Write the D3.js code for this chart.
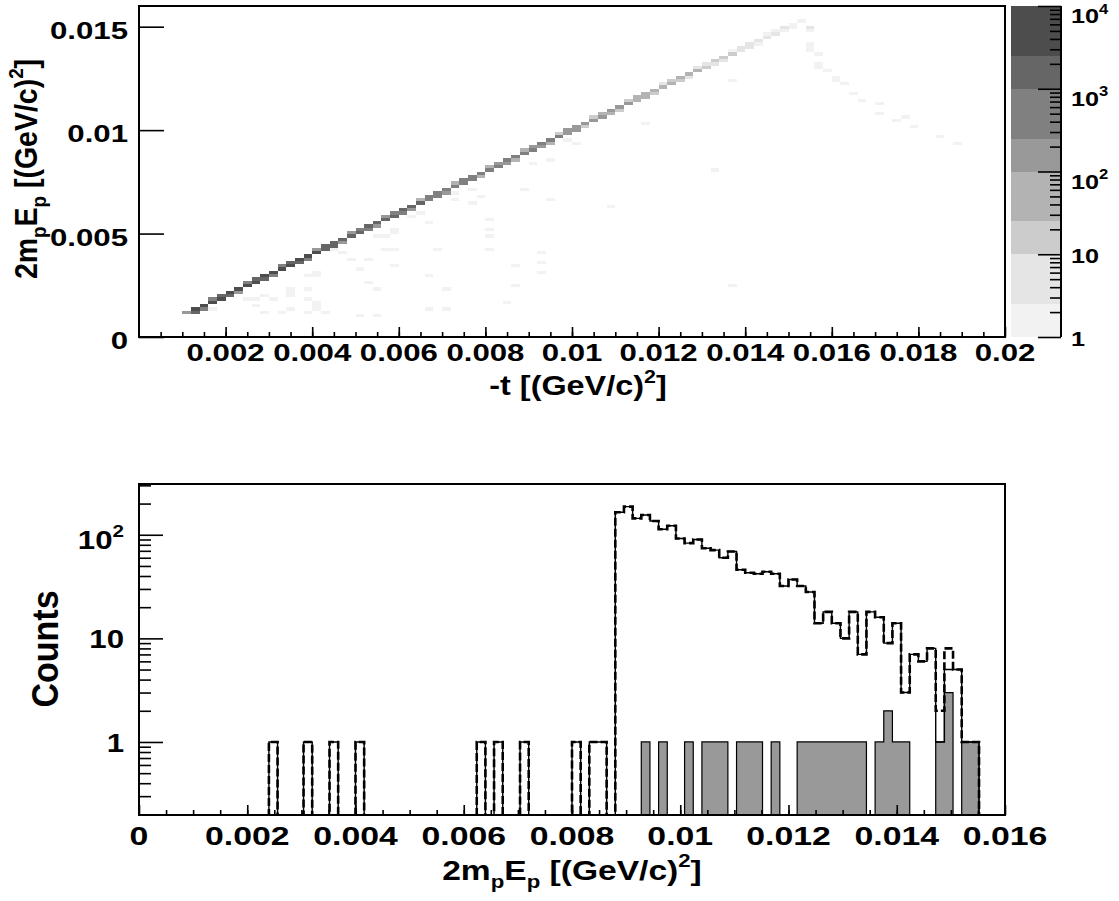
<!DOCTYPE html>
<html>
<head>
<meta charset="utf-8">
<script src="https://cdn.jsdelivr.net/npm/d3@7"></script>
<style>
  body { margin: 0; background: #fff; }
</style>
</head>
<body>
<svg id="chart" width="1119" height="901"></svg>
<script>
// ---------------- Top panel: 2m_p E_p versus -t (100 x 100 bins) ----------------
const tBinWidth = 0.0002;     // -t bin width
const epBinWidth = 0.00016;   // 2m_p E_p bin width (both panels)

// Populated cells along the elastic band: [t bin, 2mpEp bin, entries]
const bandCells = [
  [5,7,150],
  [6,7,1500],[6,8,4000],[7,8,800],[7,9,4000],[8,10,4000],[8,11,300],
  [9,11,3000],[9,12,1500],[10,12,1500],[10,13,3000],[11,13,200],[11,14,4000],
  [12,15,3500],[12,16,400],[13,16,3000],[13,17,1200],[14,17,1500],[14,18,3000],
  [15,18,300],[15,19,3500],[16,20,3000],[16,21,300],[17,21,2500],[17,22,1500],
  [18,22,1200],[18,23,3000],[19,23,250],[19,24,2500],[20,25,2500],[20,26,200],
  [21,26,2000],[21,27,1200],[22,27,1000],[22,28,2000],[23,28,200],[23,29,2000],
  [24,30,2000],[24,31,150],[25,31,1500],[25,32,800],[26,32,800],[26,33,1500],
  [27,33,150],[27,34,1500],[28,35,1200],[28,36,100],[29,36,1200],[29,37,600],
  [30,37,600],[30,38,1200],[31,38,120],[31,39,1000],[32,40,1000],[32,41,80],
  [33,41,900],[33,42,500],[34,42,400],[34,43,900],[35,43,100],[35,44,800],
  [36,45,800],[36,46,60],[37,46,700],[37,47,300],[38,47,300],[38,48,700],
  [39,48,60],[39,49,600],[40,50,600],[40,51,40],[41,51,500],[41,52,200],
  [42,52,200],[42,53,400],[43,53,50],[43,54,400],[44,55,350],[44,56,30],
  [45,56,300],[45,57,150],[46,57,150],[46,58,300],[47,58,30],[47,59,260],
  [48,60,260],[48,61,20],[49,61,200],[49,62,100],[50,62,100],[50,63,200],
  [51,63,20],[51,64,180],[52,65,160],[52,66,15],[53,66,140],[53,67,70],
  [54,67,70],[54,68,130],[55,68,15],[55,69,120],[56,70,110],[56,71,10],
  [57,71,90],[57,72,40],[58,72,40],[58,73,80],[59,73,10],[59,74,70],
  [60,75,60],[60,76,6],[61,76,50],[61,77,20],[62,77,20],[62,78,40],
  [63,78,5],[63,79,30],[64,80,25],[64,81,4],[65,81,20],[65,82,8],
  [66,82,8],[66,83,15],[67,83,3],[67,84,12],[68,85,10],[68,86,2],
  [69,86,8],[69,87,3],[70,87,3],[70,88,6],[71,88,1],[71,89,5],
  [72,90,4],[72,91,1],[73,91,3],[73,92,2],[74,92,2],[74,93,3],
  [75,93,1],[75,94,2],[76,95,1]
];

// Isolated low-count cells off the band: [t bin, 2mpEp bin, entries]
const sparseCells = [
  [8,8,1],[12,11,1],[13,11,1],[13,9,1],[14,12,1],[14,7,1],[15,11,1],[16,7,1],
  [17,12,1],[17,13,1],[17,14,1],[17,8,1],[19,14,1],[19,11,1],[19,7,1],[19,18,1],
  [20,18,1],[20,19,1],[20,8,1],[20,9,1],[20,10,1],[21,7,1],[22,26,1],[23,25,1],
  [24,23,1],[25,20,1],[25,6,1],[26,23,1],[26,16,1],[27,30,1],[27,14,1],[27,6,1],
  [28,30,1],[28,26,1],[29,26,1],[29,31,1],[29,32,1],[29,21,1],[31,36,1],[32,37,1],
  [33,34,1],[33,18,1],[33,8,1],[34,26,1],[35,14,1],[35,8,1],[36,43,1],[36,41,1],
  [38,44,1],[38,40,1],[39,42,1],[40,35,1],[40,32,1],[40,30,1],[40,26,1],[42,10,1],
  [43,21,1],[43,15,1],[44,44,1],[45,52,1],[46,25,1],[46,22,1],[46,19,1],[47,53,1],
  [47,41,1],[49,59,1],[50,58,1],[54,39,1],[58,64,1],[66,50,1],[68,77,1],[68,15,1],
  [77,93,3],[77,92,1],[77,86,1],[77,87,1],[77,88,1],[78,85,1],[78,81,1],[78,82,1],
  [79,80,1],[80,77,1],[80,78,1],[81,76,1],[82,73,1],[83,71,1],[85,70,1],[85,67,1],
  [87,65,1],[88,66,1],[89,63,1],[92,60,1],[94,58,1]
];

// Colour contour levels of the z axis and their greys
const zLevels = [1, 2.5, 10, 25, 100, 250, 1000, 2500, 10000];
const zColors = ['#f2f2f2','#e5e5e5','#cccccc','#b3b3b3','#999999','#808080','#666666','#4d4d4d'];

const topXTicks = [0.002,0.004,0.006,0.008,0.01,0.012,0.014,0.016,0.018,0.02];
const topXTickLabels = ['0.002','0.004','0.006','0.008','0.01','0.012','0.014','0.016','0.018','0.02'];
const topYTicks = [0, 0.005, 0.01, 0.015];
const topYTickLabels = ['0','0.005','0.01','0.015'];
const zTicks = [1, 10, 100, 1000, 10000];

// ---------------- Bottom panel: 2m_p E_p projections (100 bins, 0 - 0.016) ----------------
const countsAll = [
  0,0,0,0,0,0,0,0,0,0,
  0,0,0,0,0,1,0,0,0,1,
  0,0,1,0,0,1,0,0,0,0,
  0,0,0,0,0,0,0,0,0,1,
  0,1,0,0,1,0,0,0,0,0,
  1,0,1,1,0,165,187,144,155,136,
  113,122,92,83,90,74,71,60,69,46,
  43,42,44,42,32,37,32,28,14,18,
  14,10,18,7,18,16,9,14,3,7,
  6,8,1,5,5,1,1,0,0,0
];
const countsDashed = [
  0,0,0,0,0,0,0,0,0,0,
  0,0,0,0,0,1,0,0,0,1,
  0,0,1,0,0,1,0,0,0,0,
  0,0,0,0,0,0,0,0,0,1,
  0,1,0,0,1,0,0,0,0,0,
  1,0,1,1,0,165,187,144,155,136,
  113,122,92,83,90,74,71,60,69,46,
  43,42,44,42,32,37,32,28,14,18,
  14,10,18,7,18,16,9,14,3,7,
  6,8,2,8,5,1,1,0,0,0
];
const countsSelected = [
  0,0,0,0,0,0,0,0,0,0,
  0,0,0,0,0,0,0,0,0,0,
  0,0,0,0,0,0,0,0,0,0,
  0,0,0,0,0,0,0,0,0,0,
  0,0,0,0,0,0,0,0,0,0,
  0,0,0,0,0,0,0,0,1,0,
  1,0,0,1,0,1,1,1,0,1,
  1,1,0,1,0,0,1,1,1,1,
  1,1,1,1,0,1,2,1,1,0,
  0,0,1,3,0,1,1,0,0,0
];
const botXTicks = [0,0.002,0.004,0.006,0.008,0.01,0.012,0.014,0.016];
const botXTickLabels = ['0','0.002','0.004','0.006','0.008','0.01','0.012','0.014','0.016'];
const botYTicks = [1, 10, 100];

// ---------------- Drawing ----------------
const FONT = '"Liberation Sans", Arial, Helvetica, sans-serif';
const svg = d3.select('#chart');

const TP = {l: 139, r: 1005, t: 6, b: 337};
const BP = {l: 139, r: 1005, t: 484, b: 815};
const CB = {l: 1011, r: 1061};

// text with sub/superscripts; parts are strings or [string, 'sub'|'sup']
function richText(x, y, parts, {size = 22, sx = 1.2, anchor = 'middle', rotate = false} = {}) {
  const g = svg.append('g')
    .attr('transform', `translate(${x},${y}) scale(${sx},1)` + (rotate ? ' rotate(-90)' : ''));
  const t = g.append('text')
    .attr('font-family', FONT).attr('font-weight', 'bold')
    .attr('font-size', size).attr('text-anchor', anchor).attr('fill', '#000');
  let shift = 0;
  parts.forEach(p => {
    const [s, k] = typeof p === 'string' ? [p, ''] : p;
    const target = k === 'sub' ? size * 0.3 : k === 'sup' ? -size * 0.45 : 0;
    const ts = t.append('tspan').text(s).attr('dy', target - shift);
    if (k) ts.attr('font-size', size * 0.66);
    shift = target;
  });
  return g;
}

// ---- top panel
const xTop = d3.scaleLinear().domain([0, 0.02]).range([TP.l, TP.r]);
const yTop = d3.scaleLinear().domain([0, 0.016]).range([TP.b, TP.t]);
const zColor = d3.scaleThreshold().domain(zLevels.slice(1, -1)).range(zColors);

svg.append('g').attr('shape-rendering', 'crispEdges')
  .selectAll('rect').data(bandCells.concat(sparseCells)).join('rect')
  .attr('x', d => xTop(d[0] * tBinWidth))
  .attr('width', d => xTop((d[0] + 1) * tBinWidth) - xTop(d[0] * tBinWidth))
  .attr('y', d => yTop((d[1] + 1) * epBinWidth))
  .attr('height', d => yTop(d[1] * epBinWidth) - yTop((d[1] + 1) * epBinWidth))
  .attr('fill', d => zColor(d[2]));

function styleAxis(g, w) {
  g.select('.domain').remove();
  g.selectAll('line').attr('stroke', '#000').attr('stroke-width', w);
  g.selectAll('text').remove();
}

// x axis ticks (major and minor)
const topXMinor = d3.range(1, 40).map(i => i * 0.0005);
svg.append('g').attr('transform', `translate(0,${TP.b})`)
  .call(d3.axisBottom(xTop).tickValues(topXMinor).tickSizeInner(-5).tickSizeOuter(0))
  .call(g => styleAxis(g, 1.6));
svg.append('g').attr('transform', `translate(0,${TP.b})`)
  .call(d3.axisBottom(xTop).tickValues(topXTicks).tickSizeInner(-10).tickSizeOuter(0))
  .call(g => styleAxis(g, 1.6));
svg.append('g').attr('transform', `translate(${TP.l},0)`)
  .call(d3.axisLeft(yTop).tickValues(topYTicks).tickSizeInner(-25).tickSizeOuter(0))
  .call(g => styleAxis(g, 1.6));

svg.append('rect').attr('x', TP.l).attr('y', TP.t)
  .attr('width', TP.r - TP.l).attr('height', TP.b - TP.t)
  .attr('fill', 'none').attr('stroke', '#000').attr('stroke-width', 2);

topXTicks.forEach((v, i) => richText(xTop(v), 361, [topXTickLabels[i]], {size: 24, sx: 1.3}));
topYTicks.forEach((v, i) => richText(128, yTop(v) + 12, [topYTickLabels[i]], {size: 24, sx: 1.3, anchor: 'end'}));

richText(578, 395, ['-t [(GeV/c)', ['2', 'sup'], ']'], {size: 27, sx: 1.2});
richText(37, 169, ['2m', ['p', 'sub'], 'E', ['p', 'sub'], ' [(GeV/c)', ['2', 'sup'], ']'], {size: 28.5, sx: 1.1, rotate: true});

// ---- colour scale
const zScale = d3.scaleLog().domain([1, 1e4]).range([TP.b, TP.t]);
svg.append('g').attr('shape-rendering', 'crispEdges')
  .selectAll('rect').data(zColors).join('rect')
  .attr('x', CB.l).attr('width', CB.r - CB.l)
  .attr('y', (c, i) => zScale(zLevels[i + 1]))
  .attr('height', (c, i) => zScale(zLevels[i]) - zScale(zLevels[i + 1]))
  .attr('fill', c => c);

const zMinor = [];
[1, 10, 100, 1000].forEach(d => { for (let k = 2; k <= 9; k++) zMinor.push(d * k); });
svg.append('g').attr('transform', `translate(${CB.r},0)`)
  .call(d3.axisRight(zScale).tickValues(zMinor).tickSizeInner(-11).tickSizeOuter(0))
  .call(g => styleAxis(g, 1.6));
svg.append('g').attr('transform', `translate(${CB.r},0)`)
  .call(d3.axisRight(zScale).tickValues(zTicks).tickSizeInner(-23).tickSizeOuter(0))
  .call(g => styleAxis(g, 1.6));
svg.append('line').attr('x1', CB.r).attr('x2', CB.r).attr('y1', TP.t).attr('y2', TP.b)
  .attr('stroke', '#000').attr('stroke-width', 2);

const zLabelParts = [['1'], ['10'], ['10', ['2', 'sup']], ['10', ['3', 'sup']], ['10', ['4', 'sup']]];
zTicks.forEach((v, i) => richText(1071, zScale(v) + (v > 10 ? 17 : 9), zLabelParts[i],
  {size: 21, sx: 1.2, anchor: 'start'}));

// ---- bottom panel
const xBot = d3.scaleLinear().domain([0, 0.016]).range([BP.l, BP.r]);
const yBot = d3.scaleLog().domain([0.1973, 309]).range([BP.b, BP.t]);

svg.append('defs').append('clipPath').attr('id', 'botClip')
  .append('rect').attr('x', BP.l).attr('y', BP.t)
  .attr('width', BP.r - BP.l).attr('height', BP.b - BP.t);

const yVal = v => v > 0 ? yBot(v) : BP.b + 4;
function stepPath(vals, closed) {
  let d = `M${xBot(0)},${closed ? BP.b + 4 : yVal(vals[0])}`;
  vals.forEach((v, i) => { d += `V${yVal(v)}H${xBot((i + 1) * epBinWidth)}`; });
  if (closed) d += `V${BP.b + 4}Z`;
  return d;
}

const hist = svg.append('g').attr('clip-path', 'url(#botClip)');
hist.append('path').attr('d', stepPath(countsSelected, true))
  .attr('fill', '#999999').attr('stroke', '#000').attr('stroke-width', 1.2);
hist.append('path').attr('d', stepPath(countsAll, false))
  .attr('fill', 'none').attr('stroke', '#000').attr('stroke-width', 1.4);
hist.append('path').attr('d', stepPath(countsDashed, false))
  .attr('fill', 'none').attr('stroke', '#000').attr('stroke-width', 2.6)
  .attr('stroke-dasharray', '8,3');

const botXMinor = d3.range(1, 32).map(i => i * 0.0005);
svg.append('g').attr('transform', `translate(0,${BP.b})`)
  .call(d3.axisBottom(xBot).tickValues(botXMinor).tickSizeInner(-5).tickSizeOuter(0))
  .call(g => styleAxis(g, 1.6));
svg.append('g').attr('transform', `translate(0,${BP.b})`)
  .call(d3.axisBottom(xBot).tickValues(botXTicks).tickSizeInner(-10).tickSizeOuter(0))
  .call(g => styleAxis(g, 1.6));

const botYMinor = [0.2,0.3,0.4,0.5,0.6,0.7,0.8,0.9,2,3,4,5,6,7,8,9,20,30,40,50,60,70,80,90,200,300];
svg.append('g').attr('transform', `translate(${BP.l},0)`)
  .call(d3.axisLeft(yBot).tickValues(botYMinor).tickSizeInner(-12).tickSizeOuter(0))
  .call(g => styleAxis(g, 1.6));
svg.append('g').attr('transform', `translate(${BP.l},0)`)
  .call(d3.axisLeft(yBot).tickValues(botYTicks).tickSizeInner(-24).tickSizeOuter(0))
  .call(g => styleAxis(g, 1.6));

svg.append('rect').attr('x', BP.l).attr('y', BP.t)
  .attr('width', BP.r - BP.l).attr('height', BP.b - BP.t)
  .attr('fill', 'none').attr('stroke', '#000').attr('stroke-width', 2);

botXTicks.forEach((v, i) => richText(xBot(v), 845, [botXTickLabels[i]], {size: 26, sx: 1.3}));
const botYLabelParts = [['1'], ['10'], ['10', ['2', 'sup']]];
botYTicks.forEach((v, i) => richText(124, yBot(v) + (v > 10 ? 14 : 10), botYLabelParts[i],
  {size: 26, sx: 1.2, anchor: 'end'}));

richText(572, 880, ['2m', ['p', 'sub'], 'E', ['p', 'sub'], ' [(GeV/c)', ['2', 'sup'], ']'], {size: 28, sx: 1.2});
richText(58, 649, ['Counts'], {size: 34, sx: 1.1, rotate: true});
</script>
</body>
</html>
